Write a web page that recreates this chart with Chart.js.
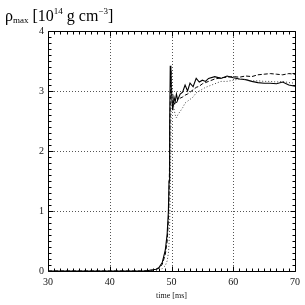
<!DOCTYPE html>
<html lang="en">
<head>
    <meta charset="UTF-8">
    <title>rho max vs time</title>
    <script src="https://cdn.jsdelivr.net/npm/chart.js"></script>
    <style>
        body { margin: 0; background: #fff; }
        #wrap { position: relative; width: 305px; height: 305px; }
        #chart { position: absolute; left: 0; top: 0; }
        #ytitle {
            position: absolute; left: 5px; top: 8px;
            font-family: 'Liberation Serif', serif; font-size: 16px; line-height: 16px;
            color: #000; white-space: nowrap;
        }
        #ytitle sub, #ytitle sup { font-size: 9px; vertical-align: baseline; position: relative; }
        #ytitle sub { top: 2px; }
        #ytitle sup { top: -7px; }
    </style>
</head>
<body>
    <div id="wrap">
        <canvas id="chart" width="305" height="305"></canvas>
        <div id="ytitle">ρ<sub>max</sub> [10<sup>14</sup> g cm<sup>−3</sup>]</div>
    </div>

    <script>
        // time axis in ms, shared by the three runs
        const timeMs = [30, 40, 45, 46, 47, 47.5, 48, 48.5, 49, 49.3, 49.5, 49.6, 49.7, 49.8, 49.9,
            50.0, 50.1, 50.2, 50.4, 50.6, 50.8, 51.0, 51.4, 51.8, 52.2, 52.6, 53.0, 53.5, 54, 54.5,
            55, 55.5, 56, 57, 58, 59, 60, 61, 62, 63, 64, 65, 66, 67, 68, 69, 70];

        // max density, 10^14 g/cm^3
        const rhoSolid = [0, 0, 0, 0.005, 0.02, 0.03, 0.06, 0.14, 0.35, 0.62, 1.0, 1.5, 2.4, 3.42, 3.3,
            3.0, 2.8, 2.68, 2.9, 2.82, 2.95, 2.85, 2.95, 2.98, 3.1, 3.0, 3.13, 3.07, 3.21, 3.15,
            3.18, 3.16, 3.21, 3.24, 3.21, 3.25, 3.22, 3.2, 3.19, 3.16, 3.14, 3.13, 3.13, 3.12, 3.15, 3.1, 3.08];
        const rhoDashed = [0, 0, 0, 0.005, 0.015, 0.025, 0.05, 0.11, 0.28, 0.5, 0.85, 1.2, 1.9, 2.8, 3.35,
            3.1, 2.85, 2.75, 2.77, 2.82, 2.8, 2.85, 2.88, 2.9, 2.93, 2.95, 2.98, 3.02, 3.06, 3.08,
            3.12, 3.14, 3.16, 3.2, 3.22, 3.23, 3.24, 3.23, 3.25, 3.24, 3.27, 3.28, 3.29, 3.28, 3.27, 3.29, 3.28];
        const rhoDotted = [0, 0, 0, 0, 0.005, 0.01, 0.02, 0.04, 0.09, 0.17, 0.3, 0.45, 0.75, 1.3, 2.3,
            3.25, 3.1, 2.85, 2.7, 2.6, 2.55, 2.6, 2.66, 2.72, 2.8, 2.83, 2.86, 2.9, 2.97, 3.0,
            3.03, 3.06, 3.08, 3.12, 3.16, 3.16, 3.18, 3.2, 3.19, 3.17, 3.17, 3.16, 3.16, 3.15, 3.16, 3.14, 3.13];

        const xTicks = [30, 40, 50, 60, 70];
        const yTicks = [0, 1, 2, 3, 4];

        const pts = vals => timeMs.map((t, i) => ({ x: t, y: vals[i] }));

        // dotted grid, box and inward tick marks like the original plot
        const frameTicks = {
            id: 'frameTicks',
            beforeDatasetsDraw(chart) {
                const { ctx, chartArea: a, scales: { x, y } } = chart;
                ctx.save();
                ctx.strokeStyle = '#555';
                ctx.lineWidth = 1;
                ctx.setLineDash([1, 2]);
                ctx.beginPath();
                xTicks.slice(1, -1).forEach(v => {
                    const px = Math.round(x.getPixelForValue(v)) + 0.5;
                    ctx.moveTo(px, a.top); ctx.lineTo(px, a.bottom);
                });
                yTicks.slice(1, -1).forEach(v => {
                    const py = Math.round(y.getPixelForValue(v)) + 0.5;
                    ctx.moveTo(a.left, py); ctx.lineTo(a.right, py);
                });
                ctx.stroke();
                ctx.restore();
            },
            afterDatasetsDraw(chart) {
                const { ctx, chartArea: a, scales: { x, y } } = chart;
                const l = Math.round(a.left) + 0.5, r = Math.round(a.right) + 0.5;
                const t = Math.round(a.top) + 0.5, b = Math.round(a.bottom) + 0.5;
                ctx.save();
                ctx.strokeStyle = '#000';
                ctx.lineWidth = 1;
                ctx.beginPath();
                ctx.rect(l, t, r - l, b - t);
                for (let v = 30; v <= 70; v++) {
                    const px = Math.round(x.getPixelForValue(v)) + 0.5;
                    const len = v % 10 === 0 ? 5 : 3;
                    ctx.moveTo(px, b); ctx.lineTo(px, b - len);
                    ctx.moveTo(px, t); ctx.lineTo(px, t + len);
                }
                for (let k = 0; k <= 40; k++) {
                    const py = Math.round(y.getPixelForValue(k / 10)) + 0.5;
                    const len = k % 10 === 0 ? 5 : 3;
                    ctx.moveTo(l, py); ctx.lineTo(l + len, py);
                    ctx.moveTo(r, py); ctx.lineTo(r - len, py);
                }
                ctx.stroke();
                ctx.restore();
            }
        };

        Chart.defaults.font.family = "'Liberation Serif', serif";
        Chart.defaults.color = '#111';

        new Chart(document.getElementById('chart'), {
            type: 'line',
            data: {
                datasets: [
                    { data: pts(rhoDotted), borderColor: '#444', borderWidth: 1, borderDash: [1, 2] },
                    { data: pts(rhoDashed), borderColor: '#000', borderWidth: 1, borderDash: [4, 2] },
                    { data: pts(rhoSolid), borderColor: '#000', borderWidth: 1.1 }
                ]
            },
            options: {
                responsive: false,
                animation: false,
                layout: { padding: { top: 31, right: 8, bottom: 0, left: 0 } },
                elements: { point: { radius: 0 }, line: { tension: 0 } },
                plugins: { legend: { display: false }, tooltip: { enabled: false } },
                scales: {
                    x: {
                        type: 'linear', min: 30, max: 70,
                        grid: { display: false, drawTicks: false, tickLength: 0 },
                        border: { display: false },
                        afterBuildTicks: s => { s.ticks = xTicks.map(v => ({ value: v })); },
                        afterFit: s => { s.height = 34; },
                        ticks: { font: { size: 10 }, padding: 5, maxRotation: 0 },
                        title: { display: true, text: 'time [ms]', font: { size: 8 }, padding: { top: 0, bottom: 4 } }
                    },
                    y: {
                        min: 0, max: 4,
                        grid: { display: false, drawTicks: false, tickLength: 0 },
                        border: { display: false },
                        afterBuildTicks: s => { s.ticks = yTicks.map(v => ({ value: v })); },
                        afterFit: s => { s.width = 48; },
                        ticks: { font: { size: 10 }, padding: 4 }
                    }
                }
            },
            plugins: [frameTicks]
        });
    </script>
</body>
</html>
